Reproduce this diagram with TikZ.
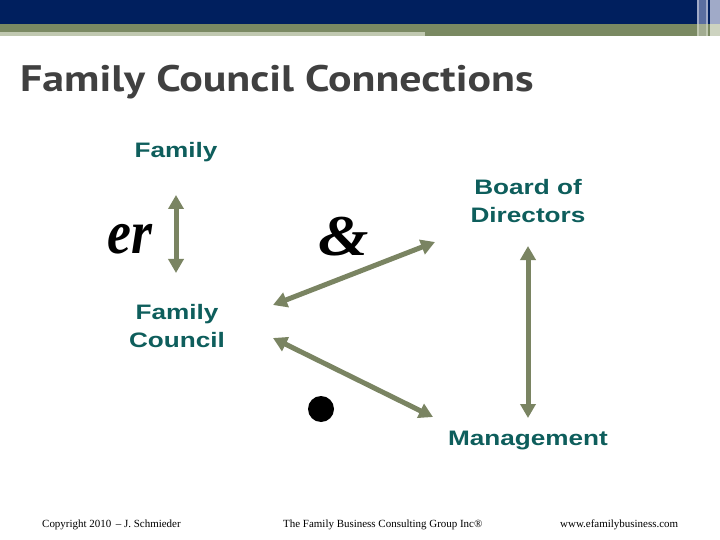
\documentclass[tikz,border=0pt]{standalone}
\usepackage{fontspec}
\usepackage{graphicx}
\usetikzlibrary{arrows.meta}
\newfontfamily\titlefont{PT Sans}[FakeStretch=1.19]
\newfontfamily\labelfont{Liberation Sans}[FakeStretch=1.25]
\newfontfamily\footfont{Liberation Serif}
\definecolor{navy}{RGB}{0,31,94}
\definecolor{olivebar}{RGB}{122,137,98}
\definecolor{palebar}{RGB}{192,200,176}
\definecolor{stripe1}{RGB}{90,110,160}
\definecolor{stripe2}{RGB}{160,170,200}
\definecolor{teal}{RGB}{14,94,92}
\definecolor{arrowc}{RGB}{122,132,98}
\definecolor{titlec}{RGB}{64,64,64}
\tikzset{
  lbl/.style={text=teal, font=\labelfont\bfseries\fontsize{21}{29}\selectfont, align=center, inner sep=0pt},
  conn/.style={draw=arrowc, line width=5bp, {Triangle[width=15bp,length=14bp]}-{Triangle[width=15bp,length=14bp]}},
  foot/.style={font=\footfont\fontsize{11}{13}\selectfont, text=black, inner sep=0pt},
  glyph/.style={font=\footfont\bfseries\itshape, inner sep=0pt}
}
\begin{document}
\begin{tikzpicture}[x=1bp, y=-1bp]
\useasboundingbox (0,0) rectangle (720,540);
\fill[white] (0,0) rectangle (720,540);
% header bars
\fill[navy] (0,0) rectangle (720,24);
\fill[olivebar] (0,24) rectangle (720,36);
\fill[palebar] (0,32) rectangle (425,36);
\fill[stripe2] (697,0) rectangle (699,24);
\fill[stripe1] (699,0) rectangle (706,24);
\fill[stripe2] (706,0) rectangle (708,24);
\fill[stripe2] (710,0) rectangle (720,24);
\fill[palebar] (697,24) rectangle (699,36);
\fill[olivebar!70!white] (699,24) rectangle (706,36);
\fill[palebar] (706,24) rectangle (708,36);
\fill[palebar!80!white] (710,24) rectangle (720,36);
% title
\node[anchor=base west, inner sep=0pt, text=titlec, font=\titlefont\bfseries\fontsize{37}{40}\selectfont] (title) at (20,92) {Family Council Connections};
% labels
\node[lbl] (family) at (176,152) {Family};
\node[lbl] (council) at (177,326) {Family\\Council};
\node[lbl] (board) at (528,201) {Board of\\Directors};
\node[lbl] (mgmt) at (528,441) {Management};
% glyphs
\node[glyph] (g1) at (130,239) {\scalebox{1}[1.15]{\fontsize{54}{54}\selectfont er}};
\node[glyph] (g2) at (344,237) {\scalebox{1.12}[1]{\fontsize{58}{58}\selectfont\&}};
\fill (321,409) circle (13) node (dot) {};
% connector endpoints
\coordinate (a1) at (176,195);
\coordinate (a2) at (176,273);
\coordinate (b1) at (435,242);
\coordinate (b2) at (273,305);
\coordinate (c1) at (273,338);
\coordinate (c2) at (433,417);
\coordinate (d1) at (528,246);
\coordinate (d2) at (528,418);
\draw[conn] (a1) -- (a2);
\draw[conn] (b1) -- (b2);
\draw[conn] (c1) -- (c2);
\draw[conn] (d1) -- (d2);
% footer
\node[foot, anchor=west] (f1) at (42,525) {Copyright 2010 \,– J. Schmieder};
\node[foot, anchor=west] (f2) at (283,525) {The Family Business Consulting Group Inc®};
\node[foot, anchor=west] (f3) at (560,525) {www.efamilybusiness.com};
\end{tikzpicture}
\end{document}
